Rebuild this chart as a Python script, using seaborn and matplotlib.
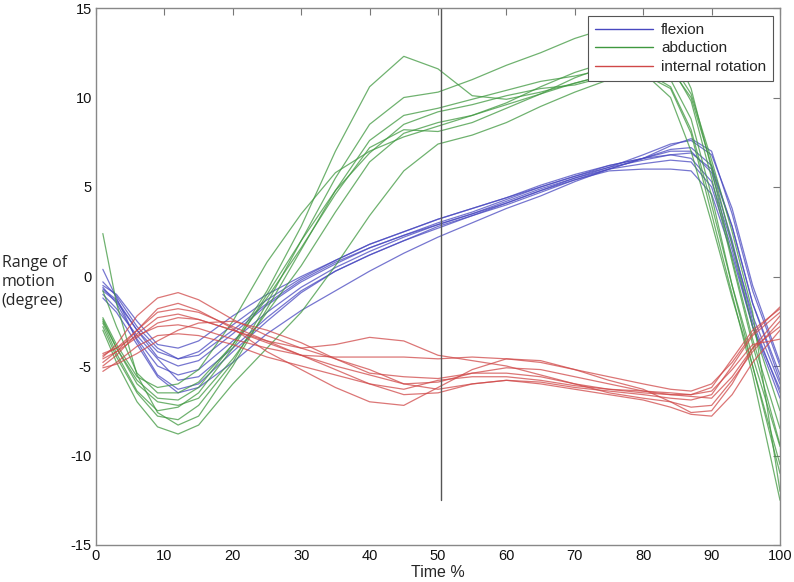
import numpy as np
import pandas as pd
import matplotlib
matplotlib.use("Agg")
import matplotlib.pyplot as plt
import seaborn as sns
from matplotlib.lines import Line2D

# ---------------- data ----------------
time_pct = [1, 3, 6, 9, 12, 15, 20, 25, 30, 35, 40, 45, 50, 55, 60, 65, 70, 75, 80, 84, 87, 90, 93, 96, 100]

flexion = [
    [0.4, -1.2, -3.6, -5.5, -6.3, -6.0, -4.2, -2.5, -0.9, 0.3, 1.2, 2.0, 2.8, 3.4, 4.0, 4.7, 5.4, 6.0, 6.6, 7.3, 7.7, 7.0, 3.5, -0.8, -5.0],
    [-0.5, -1.0, -2.5, -3.8, -4.0, -3.6, -2.2, -1.0, 0.0, 0.9, 1.8, 2.5, 3.2, 3.8, 4.4, 5.0, 5.6, 6.1, 6.5, 6.8, 6.9, 6.0, 2.8, -1.5, -5.5],
    [-0.7, -1.3, -3.0, -4.5, -5.0, -4.7, -3.2, -1.6, -0.3, 0.7, 1.6, 2.3, 3.0, 3.6, 4.3, 5.0, 5.6, 6.2, 6.6, 7.0, 7.0, 5.8, 2.0, -2.5, -6.5],
    [-0.6, -1.5, -3.5, -5.0, -5.5, -5.2, -3.6, -2.0, -0.6, 0.5, 1.4, 2.2, 2.9, 3.5, 4.2, 4.9, 5.5, 6.0, 6.3, 6.5, 6.4, 5.0, 1.5, -2.8, -6.8],
    [-1.0, -1.8, -3.3, -4.6, -5.8, -5.6, -4.0, -2.3, -0.8, 0.3, 1.2, 2.0, 2.7, 3.4, 4.1, 4.8, 5.5, 6.1, 6.8, 7.4, 7.6, 6.8, 3.8, -0.5, -4.8],
    [-0.8, -1.4, -3.0, -4.2, -4.6, -4.4, -3.0, -1.5, -0.2, 0.8, 1.6, 2.3, 2.9, 3.5, 4.1, 4.8, 5.4, 5.9, 6.0, 6.0, 5.9, 4.6, 1.2, -2.8, -6.3],
    [-1.2, -2.0, -3.8, -5.6, -6.5, -6.2, -4.8, -3.2, -1.9, -0.8, 0.3, 1.3, 2.2, 3.0, 3.8, 4.5, 5.3, 6.0, 6.6, 7.1, 7.2, 6.2, 2.8, -1.5, -5.8],
    [-0.3, -1.1, -2.8, -4.0, -4.6, -4.2, -2.7, -1.3, -0.1, 0.9, 1.8, 2.5, 3.2, 3.8, 4.4, 5.1, 5.7, 6.2, 6.6, 6.8, 6.6, 5.3, 1.8, -2.2, -6.0],
]

abduction = [
    [-2.5, -4.0, -5.8, -6.8, -6.9, -6.2, -3.8, -0.8, 2.8, 7.0, 10.6, 12.3, 11.6, 10.1, 9.9, 10.3, 10.8, 11.3, 11.5, 10.6, 8.2, 4.0, -0.5, -4.5, -9.5],
    [-2.8, -4.5, -6.5, -7.8, -8.0, -7.2, -4.8, -1.5, 2.0, 5.5, 8.5, 10.0, 10.3, 11.0, 11.8, 12.5, 13.3, 13.9, 14.2, 13.0, 10.5, 6.0, 1.0, -3.5, -8.5],
    [2.4, -1.5, -5.5, -7.6, -8.3, -7.8, -5.0, -1.8, 1.5, 4.8, 7.6, 9.0, 9.4, 9.9, 10.4, 10.9, 11.2, 11.6, 11.8, 11.0, 8.8, 4.5, -0.5, -5.0, -10.5],
    [-2.3, -3.8, -5.6, -6.2, -6.0, -5.2, -2.5, 0.8, 3.5, 5.8, 7.0, 7.8, 8.4, 9.0, 9.6, 10.2, 10.8, 11.3, 11.4, 10.0, 7.0, 3.0, -1.2, -5.0, -11.0],
    [-3.0, -4.8, -7.0, -8.4, -8.8, -8.3, -6.0, -4.0, -2.0, 0.6, 3.4, 5.9, 7.4, 7.9, 8.6, 9.5, 10.3, 11.0, 11.3, 10.5, 8.0, 3.5, -1.0, -5.5, -12.5],
    [-2.6, -4.3, -6.4, -7.5, -7.3, -6.5, -4.0, -1.0, 2.0, 4.8, 6.9, 8.5, 9.2, 9.6, 10.1, 10.5, 10.7, 11.2, 11.9, 11.6, 10.0, 6.2, 1.8, -2.8, -7.5],
    [-0.8, -2.8, -5.4, -6.5, -6.5, -5.9, -3.8, -1.2, 1.6, 4.6, 7.2, 8.2, 8.1, 8.6, 9.4, 10.2, 11.1, 11.8, 12.3, 11.8, 9.8, 5.5, 0.8, -3.8, -9.4],
    [-2.4, -4.0, -6.0, -7.0, -7.2, -6.8, -4.6, -2.0, 0.6, 3.6, 6.4, 8.0, 8.6, 9.0, 9.7, 10.6, 11.4, 12.0, 12.4, 12.0, 10.2, 6.5, 2.5, -2.0, -12.0],
]

internal_rotation = [
    [-4.5, -3.8, -2.2, -1.2, -0.9, -1.3, -2.4, -3.3, -4.0, -4.6, -5.2, -6.0, -6.3, -6.0, -5.8, -5.9, -6.2, -6.4, -6.6, -6.8, -6.9, -6.6, -5.0, -3.3, -2.0],
    [-5.0, -4.4, -3.2, -2.3, -2.1, -2.4, -3.0, -3.6, -4.0, -3.8, -3.4, -3.6, -4.4, -4.7, -5.0, -5.5, -6.0, -6.5, -6.8, -7.0, -7.3, -7.2, -5.8, -4.2, -2.5],
    [-4.8, -4.2, -3.0, -1.8, -1.5, -1.9, -2.9, -4.2, -5.2, -6.2, -7.0, -7.2, -6.2, -5.2, -4.6, -4.7, -5.2, -5.8, -6.3, -7.0, -7.6, -7.5, -6.0, -4.0, -2.2],
    [-4.3, -4.0, -3.3, -2.8, -2.7, -2.9, -3.5, -4.0, -4.4, -4.5, -4.5, -4.5, -4.6, -4.5, -4.6, -4.8, -5.2, -5.6, -6.0, -6.3, -6.4, -6.0, -4.8, -3.2, -1.7],
    [-4.6, -4.2, -3.4, -2.6, -2.3, -2.4, -3.0, -3.7, -4.4, -5.0, -5.5, -6.0, -5.9, -5.4, -5.1, -5.2, -5.6, -6.0, -6.4, -6.6, -6.6, -6.2, -4.6, -3.0, -1.8],
    [-5.3, -4.8, -3.9, -3.3, -3.2, -3.3, -3.8, -4.5, -5.0, -5.5, -6.0, -6.3, -5.8, -5.6, -5.6, -5.8, -6.1, -6.3, -6.5, -6.6, -6.7, -6.8, -5.6, -4.0, -2.8],
    [-4.4, -4.0, -3.0, -2.0, -1.8, -2.0, -2.8, -3.6, -4.4, -5.2, -6.0, -6.6, -6.5, -6.0, -5.8, -6.0, -6.3, -6.6, -6.9, -7.3, -7.7, -7.8, -6.6, -4.8, -3.0],
    [-5.1, -4.9, -4.3, -3.6, -3.0, -2.6, -2.5, -3.0, -3.7, -4.6, -5.4, -5.6, -5.7, -5.4, -5.4, -5.6, -6.0, -6.3, -6.4, -6.5, -6.6, -6.4, -5.2, -3.8, -3.5],
]

series_names = ["flexion", "abduction", "internal rotation"]
x_ticks = [0, 10, 20, 30, 40, 50, 60, 70, 80, 90, 100]
y_ticks = [-15, -10, -5, 0, 5, 10, 15]
marker_time = 50.4
marker_range = [-12.5, 15]

# ---------------- build table ----------------
rows = []
for name, group in zip(series_names, [flexion, abduction, internal_rotation]):
    for i, curve in enumerate(group):
        for t, v in zip(time_pct, curve):
            rows.append({"time": t, "value": v, "motion": name, "trial": f"{name}_{i}"})
df = pd.DataFrame(rows)

# ---------------- plot ----------------
sns.set_style("white")
plt.rcParams["font.family"] = ["Liberation Sans", "DejaVu Sans"]

fig = plt.figure(figsize=(7.94, 5.82), dpi=100)
ax = fig.add_axes([96 / 794, 1 - 545 / 582, 684 / 794, 537 / 582])

palette = {"flexion": "#4848c0", "abduction": "#3f983f", "internal rotation": "#d04848"}
sns.lineplot(data=df, x="time", y="value", hue="motion", units="trial",
             estimator=None, palette=palette, linewidth=0.9, alpha=0.75,
             ax=ax, legend=False, sort=False)

ax.plot([marker_time, marker_time], marker_range, color="#555555", linewidth=1.0)

ax.set_xlim(0, 100)
ax.set_ylim(-15, 15)
ax.set_xticks(x_ticks)
ax.set_yticks(y_ticks)
ax.set_xticklabels([str(t) for t in x_ticks])
ax.set_yticklabels([str(t) for t in y_ticks])
ax.tick_params(direction="in", top=True, right=True, length=5, width=0.8,
               color="#777777", labelsize=10.5, labelcolor="#111111", pad=3)
for s in ax.spines.values():
    s.set_color("#888888")
    s.set_linewidth(1.0)

ax.set_xlabel("Time %", fontsize=11.5, labelpad=1)
ax.set_ylabel("")

fig.text(0.002, 0.515, "Range of\nmotion\n(degree)", fontsize=11.5,
         family=["Open Sans", "DejaVu Sans"], ha="left", va="center", linespacing=1.25)

handles = [Line2D([0], [0], color=palette[n], linewidth=1.0) for n in series_names]
leg = ax.legend(handles, series_names, loc="upper right",
                bbox_to_anchor=((773 - 96) / 684, 1 - 8 / 537), borderaxespad=0,
                fontsize=11, frameon=True, fancybox=False, handlelength=3.8,
                handletextpad=0.5, labelspacing=0.3, borderpad=0.45)
leg.get_frame().set_edgecolor("#555555")
leg.get_frame().set_linewidth(0.8)
leg.get_frame().set_facecolor("white")
leg.get_frame().set_alpha(1.0)

fig.savefig("out.png", dpi=100)
